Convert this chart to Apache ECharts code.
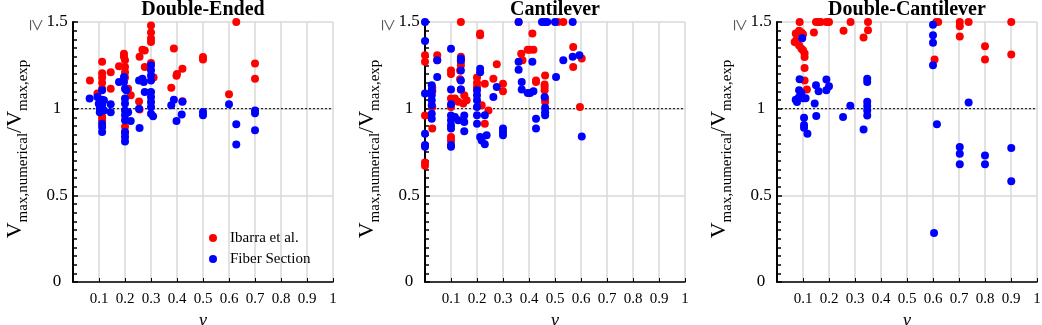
<!DOCTYPE html>
<html>
<head>
<meta charset="utf-8">
<script src="https://cdn.jsdelivr.net/npm/echarts@6.0.0/dist/echarts.min.js"></script>
<style>
  html, body { margin: 0; padding: 0; background: #fff; }
  #main { width: 1042px; height: 325px; }
</style>
</head>
<body>
<div id="main"></div>
<script>
// panel titles and tick values
let panelTitles = ['Double-Ended', 'Cantilever', 'Double-Cantilever'];
let xTicks = [0.1, 0.2, 0.3, 0.4, 0.5, 0.6, 0.7, 0.8, 0.9, 1];
let yTicks = [0, 0.5, 1, 1.5];

// [nu, Vnum/Vexp] per panel, values >= 1.5 are drawn at 1.5
let deIbarra = [[0.065,1.163],[0.094,1.087],[0.112,1.27],[0.112,1.205],[0.112,1.18],[0.112,1.15],[0.112,1.115],[0.112,0.952],[0.112,0.933],[0.145,1.21],[0.145,1.115],[0.177,1.245],[0.196,1.317],[0.196,1.3],[0.2,1.28],[0.2,1.24],[0.2,1.21],[0.2,1.18],[0.212,1.115],[0.222,1.077],[0.2,0.895],[0.2,0.86],[0.254,1.042],[0.256,0.995],[0.256,1.3],[0.267,1.34],[0.276,1.335],[0.276,1.24],[0.3,1.48],[0.3,1.44],[0.3,1.405],[0.3,1.385],[0.3,1.263],[0.31,1.18],[0.388,1.347],[0.378,1.12],[0.398,1.19],[0.4,1.2],[0.421,1.23],[0.421,1.043],[0.5,1.298],[0.5,1.283],[0.6,1.083],[0.628,1.5],[0.7,1.26],[0.7,1.173]];
let deFiber = [[0.064,1.058],[0.094,1.067],[0.099,1.029],[0.103,1.0],[0.103,0.98],[0.112,1.106],[0.112,1.052],[0.112,1.02],[0.112,0.913],[0.112,0.894],[0.112,0.865],[0.119,1.048],[0.119,0.99],[0.145,1.025],[0.145,0.98],[0.177,1.154],[0.196,1.183],[0.196,1.154],[0.2,1.115],[0.2,1.058],[0.2,1.03],[0.2,0.99],[0.2,0.962],[0.2,0.933],[0.2,0.865],[0.2,0.836],[0.2,0.81],[0.205,1.106],[0.212,0.98],[0.222,0.929],[0.254,1.0],[0.256,0.888],[0.254,1.163],[0.267,1.173],[0.272,1.154],[0.276,1.096],[0.3,1.25],[0.3,1.221],[0.3,1.192],[0.3,1.163],[0.3,1.096],[0.3,1.067],[0.3,1.038],[0.3,1.01],[0.3,0.971],[0.308,0.956],[0.378,1.02],[0.388,1.052],[0.398,0.929],[0.421,1.04],[0.418,0.966],[0.5,0.981],[0.5,0.962],[0.6,1.025],[0.628,0.91],[0.628,0.793],[0.7,0.99],[0.7,0.973],[0.7,0.875]];

let cantIbarra = [[0,1.308],[0,1.27],[0,0.96],[0,0.69],[0,0.67],[0.028,1.12],[0.028,1.1],[0.028,1.01],[0.028,0.885],[0.047,1.308],[0.047,1.28],[0.1,1.22],[0.1,1.2],[0.1,1.058],[0.115,1.058],[0.1,1.01],[0.1,0.836],[0.1,0.817],[0.138,1.5],[0.138,1.3],[0.138,1.27],[0.138,1.25],[0.135,1.22],[0.135,1.17],[0.138,1.11],[0.151,1.077],[0.128,1.04],[0.147,1.03],[0.16,1.048],[0.212,1.433],[0.212,1.423],[0.2,1.18],[0.2,1.15],[0.2,1.125],[0.218,1.02],[0.23,0.913],[0.244,0.99],[0.23,1.144],[0.263,1.173],[0.276,1.256],[0.3,1.144],[0.3,1.1],[0.36,1.5],[0.37,1.317],[0.375,1.28],[0.395,1.34],[0.404,1.34],[0.417,1.34],[0.413,1.433],[0.427,1.163],[0.427,1.154],[0.462,1.192],[0.46,1.14],[0.46,1.125],[0.46,1.106],[0.462,1.058],[0.462,1.038],[0.51,1.5],[0.532,1.5],[0.57,1.356],[0.57,1.24],[0.596,1.01],[0.603,1.29]];
let cantFiber = [[0,1.5],[0,1.39],[0,1.087],[0,0.856],[0,0.79],[0,0.78],[0.026,1.135],[0.026,1.106],[0.026,1.077],[0.026,1.048],[0.026,1.02],[0.026,0.971],[0.026,0.942],[0.047,1.28],[0.047,1.183],[0.1,1.346],[0.1,1.11],[0.1,1.025],[0.1,0.96],[0.1,0.933],[0.1,0.904],[0.1,0.885],[0.1,0.79],[0.1,0.78],[0.115,0.952],[0.128,0.933],[0.138,1.29],[0.138,1.28],[0.138,1.22],[0.138,1.163],[0.138,1.11],[0.151,0.96],[0.151,0.923],[0.151,0.87],[0.2,1.106],[0.2,1.077],[0.2,1.048],[0.2,1.01],[0.2,0.962],[0.2,0.913],[0.212,1.23],[0.212,1.21],[0.212,0.836],[0.218,0.817],[0.23,0.962],[0.23,0.794],[0.237,0.846],[0.276,1.125],[0.263,1.067],[0.3,0.885],[0.3,0.865],[0.3,0.846],[0.36,1.5],[0.36,1.27],[0.36,1.225],[0.372,1.154],[0.372,1.11],[0.395,1.09],[0.404,1.09],[0.417,1.1],[0.413,1.27],[0.427,0.942],[0.427,0.885],[0.45,1.5],[0.46,1.5],[0.47,1.5],[0.46,1.067],[0.462,1.006],[0.462,0.98],[0.462,0.962],[0.5,1.5],[0.504,1.183],[0.532,1.28],[0.568,1.5],[0.568,1.3],[0.594,1.308],[0.603,0.84]];

let dcIbarra = [[0.087,1.5],[0.072,1.433],[0.085,1.45],[0.094,1.44],[0.1,1.43],[0.068,1.385],[0.076,1.38],[0.085,1.365],[0.074,1.394],[0.094,1.346],[0.1,1.337],[0.106,1.32],[0.106,1.298],[0.106,1.235],[0.106,1.163],[0.115,1.11],[0.142,1.44],[0.15,1.5],[0.16,1.5],[0.168,1.5],[0.19,1.5],[0.2,1.5],[0.256,1.45],[0.283,1.5],[0.333,1.41],[0.35,1.452],[0.35,1.5],[0.606,1.283],[0.613,1.5],[0.62,1.5],[0.703,1.5],[0.703,1.475],[0.703,1.417],[0.737,1.5],[0.8,1.36],[0.8,1.283],[0.901,1.5],[0.901,1.313]];
let dcFiber = [[0.097,1.406],[0.087,1.17],[0.085,1.106],[0.094,1.09],[0.085,1.067],[0.072,1.052],[0.081,1.056],[0.077,1.038],[0.1,1.06],[0.11,1.06],[0.104,0.948],[0.104,0.906],[0.104,0.89],[0.117,0.856],[0.145,1.03],[0.15,1.135],[0.16,1.1],[0.151,0.958],[0.19,1.168],[0.19,1.106],[0.2,1.13],[0.254,0.952],[0.282,1.017],[0.333,0.88],[0.347,1.173],[0.347,1.154],[0.347,1.04],[0.347,1.015],[0.347,0.99],[0.347,0.96],[0.6,1.484],[0.6,1.423],[0.6,1.38],[0.6,1.25],[0.615,0.91],[0.604,0.283],[0.703,0.779],[0.703,0.74],[0.703,0.679],[0.737,1.035],[0.8,0.73],[0.8,0.679],[0.901,0.773],[0.901,0.581]];

let ibarraSets = [deIbarra, cantIbarra, dcIbarra];
let fiberSets = [deFiber, cantFiber, dcFiber];
let refLine = [[0, 1], [1, 1]];

let gridLefts = [73, 425, 777];
let gridWidth = 260, gridTop = 22, gridHeight = 260;
let serif = '"Liberation Serif", "Times New Roman", serif';

function createCharts() {
  let myChart = echarts.init(document.getElementById('main'));
  let grid = [], xAxis = [], yAxis = [], title = [], series = [], graphic = [];

  gridLefts.forEach(function (left, i) {
    grid.push({
      left: left, top: gridTop, width: gridWidth, height: gridHeight,
      outerBoundsMode: 'none', containLabel: false
    });
    title.push({
      text: panelTitles[i],
      left: left + gridWidth / 2,
      top: 0,
      padding: 0,
      textAlign: 'center',
      textStyle: { fontFamily: serif, fontWeight: 'bold', fontSize: 20, color: '#000' }
    });
    xAxis.push({
      gridIndex: i,
      type: 'value',
      min: 0,
      max: 1,
      interval: 0.1,
      name: 'ν',
      nameLocation: 'middle',
      nameGap: 30,
      nameMoveOverlap: false,
      nameTextStyle: { fontFamily: serif, fontStyle: 'italic', fontSize: 18, color: '#000' },
      axisLine: { show: true, lineStyle: { color: '#000', width: 1.5 } },
      axisTick: { show: true, inside: true, length: 4, lineStyle: { color: '#000' } },
      splitLine: { show: true, lineStyle: { color: '#d9d9d9', width: 1.5 } },
      axisLabel: {
        fontFamily: serif, fontSize: 15, color: '#000', margin: 10,
        formatter: function (v) {
          let hit = xTicks.find(function (t) { return Math.abs(t - v) < 1e-6; });
          return hit === undefined ? '' : String(hit);
        }
      }
    });
    yAxis.push({
      gridIndex: i,
      type: 'value',
      min: 0,
      max: 1.5,
      interval: 0.5,
      axisLine: { show: true, lineStyle: { color: '#000', width: 2 } },
      axisTick: { show: true, inside: true, length: 5, lineStyle: { color: '#000', width: 1.5 } },
      minorTick: { show: true, splitNumber: 10, length: 4, lineStyle: { color: '#000', width: 1.5 } },
      splitLine: { show: true, lineStyle: { color: '#d9d9d9', width: 1.5 } },
      axisLabel: {
        fontFamily: serif, fontSize: 17, color: '#000', margin: 16, align: 'center',
        formatter: function (v) {
          let hit = yTicks.find(function (t) { return Math.abs(t - v) < 1e-6; });
          return hit === undefined ? '' : String(hit);
        }
      }
    });
    // 虚线 y = 1
    series.push({
      type: 'line',
      xAxisIndex: i,
      yAxisIndex: i,
      data: refLine,
      symbol: 'none',
      silent: true,
      z: 1,
      lineStyle: { color: '#000', width: 1, type: [2, 2] }
    });
    series.push({
      name: 'Ibarra et al.',
      type: 'scatter',
      xAxisIndex: i,
      yAxisIndex: i,
      symbolSize: 8,
      z: 2,
      itemStyle: { color: '#ff0000', opacity: 1 },
      data: ibarraSets[i]
    });
    series.push({
      name: 'Fiber Section',
      type: 'scatter',
      xAxisIndex: i,
      yAxisIndex: i,
      symbolSize: 8,
      z: 3,
      itemStyle: { color: '#0000ff', opacity: 1 },
      data: fiberSets[i]
    });
    // y 轴标题
    graphic.push({
      type: 'text',
      x: left - 58,
      y: gridTop + gridHeight / 2 - 3,
      rotation: Math.PI / 2,
      style: {
        text: '{v|V}{s|max,numerical}{v|/V}{s|max,exp}',
        align: 'center',
        verticalAlign: 'middle',
        rich: {
          v: { fontFamily: serif, fontSize: 22, lineHeight: 22, verticalAlign: 'top', fill: '#000' },
          s: { fontFamily: serif, fontSize: 15, lineHeight: 15, padding: [12, 0, 0, 0], verticalAlign: 'top', fill: '#000' }
        }
      }
    });
    graphic.push({
      type: 'text',
      x: left - 37,
      y: gridTop + 3,
      rotation: -Math.PI / 2,
      style: {
        text: '≥',
        align: 'center',
        verticalAlign: 'middle',
        fontFamily: serif,
        fontSize: 22,
        fill: '#555'
      }
    });
  });

  let option = {
    animation: false,
    backgroundColor: '#fff',
    title: title,
    grid: grid,
    xAxis: xAxis,
    yAxis: yAxis,
    legend: {
      data: ['Ibarra et al.', 'Fiber Section'],
      orient: 'vertical',
      left: 209,
      top: 230,
      padding: 0,
      itemGap: 5,
      itemWidth: 24,
      itemHeight: 8,
      icon: 'circle',
      textStyle: { fontFamily: serif, fontSize: 15, color: '#000', lineHeight: 16 }
    },
    graphic: graphic,
    series: series
  };
  myChart.setOption(option);
}

createCharts();
</script>
</body>
</html>
